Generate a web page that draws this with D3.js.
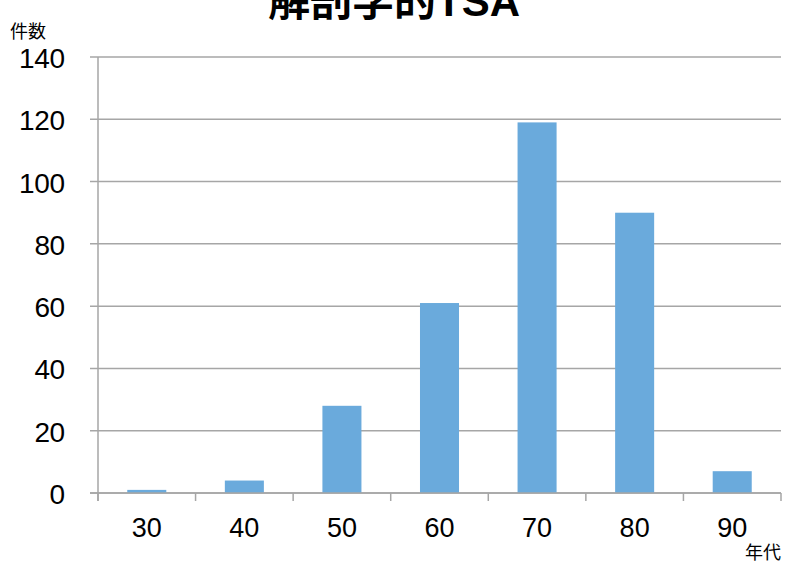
<!DOCTYPE html>
<html>
<head>
<meta charset="utf-8">
<script src="https://cdn.jsdelivr.net/npm/d3@7"></script>
<style>
  body { margin: 0; background: #fff; }
  text { font-family: "Liberation Sans", Arial, "Noto Sans CJK JP", sans-serif; }
</style>
</head>
<body>
<svg width="796" height="565"></svg>
<script>
var categories = ["30", "40", "50", "60", "70", "80", "90"];
var counts = [1, 4, 28, 61, 119, 90, 7];
var yTicks = [0, 20, 40, 60, 80, 100, 120, 140];

(function () {
  "use strict";
  var svg = d3.select("svg");
  var plotLeft = 98, plotRight = 781, plotTop = 57, plotBottom = 493;

  var x = d3.scaleBand().domain(categories).range([plotLeft, plotRight])
    .paddingInner(0.6).paddingOuter(0.3);
  var xb = d3.scaleBand().domain(categories).range([plotLeft, plotRight]);
  var y = d3.scaleLinear().domain([0, 140]).range([plotBottom, plotTop]);

  // gridlines
  svg.append("g").selectAll("line")
      .data(yTicks)
    .enter().append("line")
      .attr("x1", plotLeft - 8).attr("x2", plotRight)
      .attr("y1", function (d) { return y(d); })
      .attr("y2", function (d) { return y(d); })
      .attr("stroke", "#a6a6a6").attr("stroke-width", 1.5);

  // bars
  svg.append("g").selectAll("rect")
      .data(counts)
    .enter().append("rect")
      .attr("x", function (d, i) { return x(categories[i]); })
      .attr("width", x.bandwidth())
      .attr("y", function (d) { return y(d); })
      .attr("height", function (d) { return y(0) - y(d); })
      .attr("fill", "#6aaadc");

  // axis lines
  svg.append("line").attr("x1", plotLeft).attr("x2", plotLeft)
    .attr("y1", plotTop).attr("y2", plotBottom + 8)
    .attr("stroke", "#a6a6a6").attr("stroke-width", 1.5);
  svg.append("line").attr("x1", plotLeft - 8).attr("x2", plotRight)
    .attr("y1", plotBottom).attr("y2", plotBottom)
    .attr("stroke", "#a6a6a6").attr("stroke-width", 1.5);

  // x ticks at band boundaries
  var bounds = categories.map(function (c) { return xb(c); }).concat([plotRight]);
  svg.append("g").selectAll("line")
      .data(bounds)
    .enter().append("line")
      .attr("x1", function (d) { return d; }).attr("x2", function (d) { return d; })
      .attr("y1", plotBottom).attr("y2", plotBottom + 8)
      .attr("stroke", "#a6a6a6").attr("stroke-width", 1.5);

  // y labels
  svg.append("g").selectAll("text")
      .data(yTicks)
    .enter().append("text")
      .attr("x", 65).attr("y", function (d) { return y(d) + 11; })
      .attr("text-anchor", "end").attr("font-size", 28).attr("fill", "#000")
      .attr("textLength", function (d) { return String(d).length * 15.3; })
      .text(function (d) { return d; });

  // x labels
  svg.append("g").selectAll("text")
      .data(categories)
    .enter().append("text")
      .attr("x", function (d) { return xb(d) + xb.bandwidth() / 2; })
      .attr("y", 537)
      .attr("text-anchor", "middle").attr("font-size", 27).attr("fill", "#000")
      .text(function (d) { return d; });

  // title and axis names
  svg.append("text").attr("x", 394).attr("y", 16)
    .attr("text-anchor", "middle").attr("font-size", 42).attr("font-weight", "bold")
    .text("解剖学的TSA");
  svg.append("text").attr("x", 10).attr("y", 38)
    .attr("font-size", 18).text("件数");
  svg.append("text").attr("x", 745).attr("y", 559)
    .attr("font-size", 18).text("年代");
})();
</script>
</body>
</html>
